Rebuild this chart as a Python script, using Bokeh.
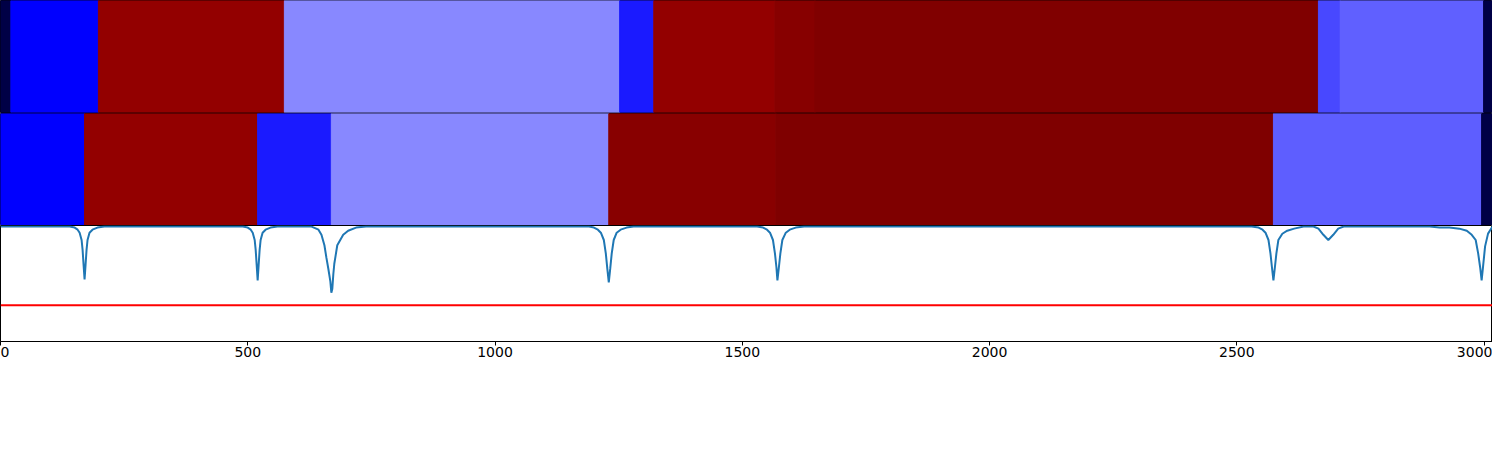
from bokeh.plotting import figure
from bokeh.layouts import column
from bokeh.models import Range1d, FixedTicker, Span
from bokeh.embed import file_html
from bokeh.resources import INLINE

# ---- data ----
x_max = 3017

top_left = [0, 21, 198, 574, 1252, 1321, 1566, 1647, 2665, 2709, 2999]
top_right = [21, 198, 574, 1252, 1321, 1566, 1647, 2665, 2709, 2999, 3017]
top_colors = ["#000046", "#0000ff", "#930000", "#8888ff", "#1a1aff", "#930000",
              "#870000", "#800000", "#4848ff", "#6060ff", "#000046"]

mid_left = [0, 170, 520, 669, 1230, 1568, 2574, 2995]
mid_right = [170, 520, 669, 1230, 1568, 2574, 2995, 3017]
mid_colors = ["#0000ff", "#930000", "#1a1aff", "#8888ff", "#880000", "#7f0000",
              "#5e5eff", "#000046"]

signal_x = [
    0, 140, 150, 156, 160, 164, 166, 168, 170, 172, 174, 176, 180, 186, 196, 210,
    490, 500, 506, 510, 514, 516, 518, 520, 522, 524, 526, 530, 536, 546, 560,
    612, 629, 643, 649, 655, 659, 663, 667, 669, 671, 673, 675, 677, 681, 687, 693, 703, 719, 739,
    1190, 1200, 1208, 1214, 1220, 1224, 1227, 1230, 1233, 1236, 1240, 1246, 1254, 1266, 1280,
    1530, 1542, 1550, 1556, 1562, 1566, 1569, 1571, 1574, 1577, 1581, 1588, 1596, 1608, 1625,
    2530, 2544, 2552, 2558, 2564, 2568, 2571, 2574, 2577, 2580, 2584, 2592, 2602, 2616, 2635,
    2655, 2665, 2675, 2685, 2695, 2705, 2716,
    2890, 2910, 2930, 2950, 2965, 2975, 2983, 2988, 2992, 2995, 2998, 3002, 3008, 3017,
]
signal_y = [
    0.991, 0.991, 0.982, 0.964, 0.938, 0.875, 0.79, 0.66, 0.536, 0.66, 0.79, 0.875, 0.938, 0.964, 0.982, 0.991,
    0.991, 0.982, 0.964, 0.938, 0.875, 0.79, 0.66, 0.527, 0.66, 0.79, 0.875, 0.938, 0.964, 0.982, 0.991,
    0.991, 0.991, 0.964, 0.92, 0.83, 0.723, 0.625, 0.518, 0.42, 0.455, 0.58, 0.67, 0.723, 0.83, 0.875, 0.92, 0.955, 0.982, 0.991,
    0.991, 0.982, 0.964, 0.938, 0.875, 0.76, 0.63, 0.51, 0.63, 0.76, 0.875, 0.938, 0.964, 0.982, 0.991,
    0.991, 0.982, 0.964, 0.938, 0.875, 0.76, 0.64, 0.527, 0.64, 0.76, 0.875, 0.938, 0.964, 0.982, 0.991,
    0.991, 0.982, 0.964, 0.938, 0.875, 0.76, 0.64, 0.527, 0.64, 0.76, 0.875, 0.929, 0.955, 0.973, 0.991,
    0.991, 0.973, 0.92, 0.875, 0.92, 0.973, 0.991,
    0.991, 0.982, 0.982, 0.973, 0.955, 0.92, 0.875, 0.76, 0.64, 0.527, 0.65, 0.82, 0.93, 0.991,
]
threshold = 0.3125
x_ticks = [0, 500, 1000, 1500, 2000, 2500, 3000]

# ---- figures ----
W = 1492
xr = Range1d(0, x_max)


def base_fig(h, **kw):
    p = figure(width=W, height=h, x_range=xr, y_range=Range1d(0, 1),
               output_backend="svg", toolbar_location=None,
               min_border_left=0, min_border_right=0, min_border_top=0,
               min_border_bottom=0, **kw)
    p.outline_line_color = "black"
    p.outline_line_width = 1
    p.grid.visible = False
    p.background_fill_color = "white"
    p.border_fill_color = "white"
    return p


p1 = base_fig(113, x_axis_location=None, y_axis_location=None)
p1.min_border_bottom = 1
p1.quad(left=top_left, right=top_right, bottom=0, top=1, fill_color=top_colors,
        line_color=top_colors, line_width=1)

p2 = base_fig(112, x_axis_location=None, y_axis_location=None)
p2.quad(left=mid_left, right=mid_right, bottom=0, top=1, fill_color=mid_colors,
        line_color=mid_colors, line_width=1)

p3 = base_fig(134, y_axis_location=None)
p3.line(signal_x, signal_y, line_color="#1f77b4", line_width=2)
p3.add_layout(Span(location=threshold, dimension="width", line_color="#ff0000",
                   line_width=2))
ax = p3.xaxis[0]
ax.ticker = FixedTicker(ticks=x_ticks)
ax.minor_tick_line_color = None
ax.major_tick_in = 0
ax.major_tick_out = 4
ax.major_tick_line_color = "black"
ax.axis_line_color = "black"
ax.major_label_text_font = "DejaVu Sans"
ax.major_label_text_font_size = "14px"
ax.major_label_text_color = "black"
ax.major_label_standoff = 1

layout = column(p1, p2, p3, spacing=0)

open("out.html", "w").write(file_html(layout, INLINE))
